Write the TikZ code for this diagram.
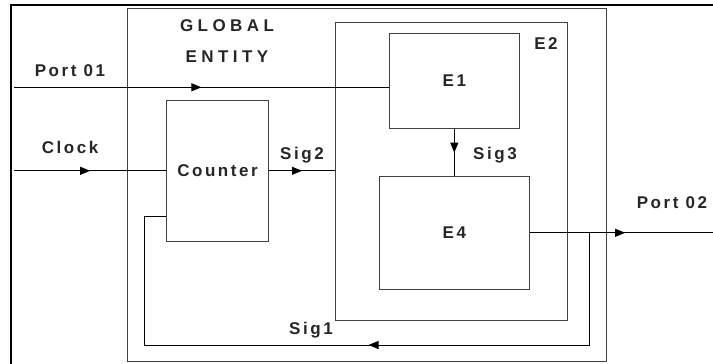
\documentclass[tikz,border=0pt]{standalone}
\usepackage{fontspec}
\setmainfont{Liberation Sans}
\newfontfamily\blockfont[LetterSpace=15]{Liberation Sans Bold}
\newfontfamily\titlefont[LetterSpace=26]{Liberation Sans Bold}
\usetikzlibrary{arrows.meta,decorations.markings}

\tikzset{
    block/.style={draw=black!75, line width=0.8pt, inner sep=0pt, text=black!85,
        font=\blockfont\fontsize{17}{19}\selectfont},
    wire/.style={draw=black, line width=0.9pt},
    midarrow/.style={postaction=decorate, decoration={markings,
        mark=at position #1 with {\arrow{Triangle[length=10pt,width=8pt]}}}},
    tag/.style={inner sep=0pt, text=black!85, font=\blockfont\fontsize{17}{19}\selectfont},
}

\begin{document}
\begin{tikzpicture}[x=1pt,y=-1pt]
    \useasboundingbox (0,0) rectangle (713,364);
    \draw[line width=2pt] (713,5) -| (11,364);

    % entities
    \node[block, minimum width=479.7pt, minimum height=353.4pt] (ge) at (366.8,185) {};
    \node[block, minimum width=232pt, minimum height=297.3pt] (e2) at (451.7,171.3) {};
    \node[block, minimum width=130pt, minimum height=95.4pt] (e1) at (454.3,81) {E1};
    \node[block, minimum width=150.7pt, minimum height=112.3pt] (e4) at (454.3,232.8) {E4};
    \node[block, minimum width=101.6pt, minimum height=140.3pt] (cnt) at (217.5,170.8) {Counter};

    \node[tag, font=\titlefont\fontsize{17}{19}\selectfont] (gl) at (227,26) {GLOBAL};
    \node[tag, font=\titlefont\fontsize{17}{19}\selectfont] (en) at (227,57) {ENTITY};
    \node[tag] (e2l) at (546,44) {E2};

    % ports and signals
    \coordinate (p1) at (14,87.3);
    \coordinate (clk) at (14,170.8);
    \coordinate (p2) at (713,232.8);
    \coordinate (fork) at (589.3,232.8);
    \coordinate (s1a) at (589.3,345);
    \coordinate (s1b) at (144,345);
    \coordinate (s1c) at (144,216);

    \draw[wire, midarrow=0.5] (p1) -- (p1 -| e1.west);
    \draw[wire, midarrow=0.5] (clk) -- (cnt.west);
    \draw[wire, midarrow=0.5] (cnt.east) -- (cnt.east -| e2.west);
    \draw[wire, midarrow=0.5] (e1.south) -- (e4.north);
    \draw[wire, midarrow=0.52] (e4.east) -- (p2);
    \draw[wire, midarrow=333pt] (fork) -- (s1a) -- (s1b) -- (s1c) -- (s1c -| cnt.west);

    \node[tag] (lp1) at (70,71) {Port 01};
    \node[tag] (lclk) at (70,147.5) {Clock};
    \node[tag] (ls2) at (302,155) {Sig2};
    \node[tag] (ls3) at (495,155) {Sig3};
    \node[tag] (ls1) at (311,330) {Sig1};
    \node[tag] (lp2) at (672,203) {Port 02};
\end{tikzpicture}
\end{document}
